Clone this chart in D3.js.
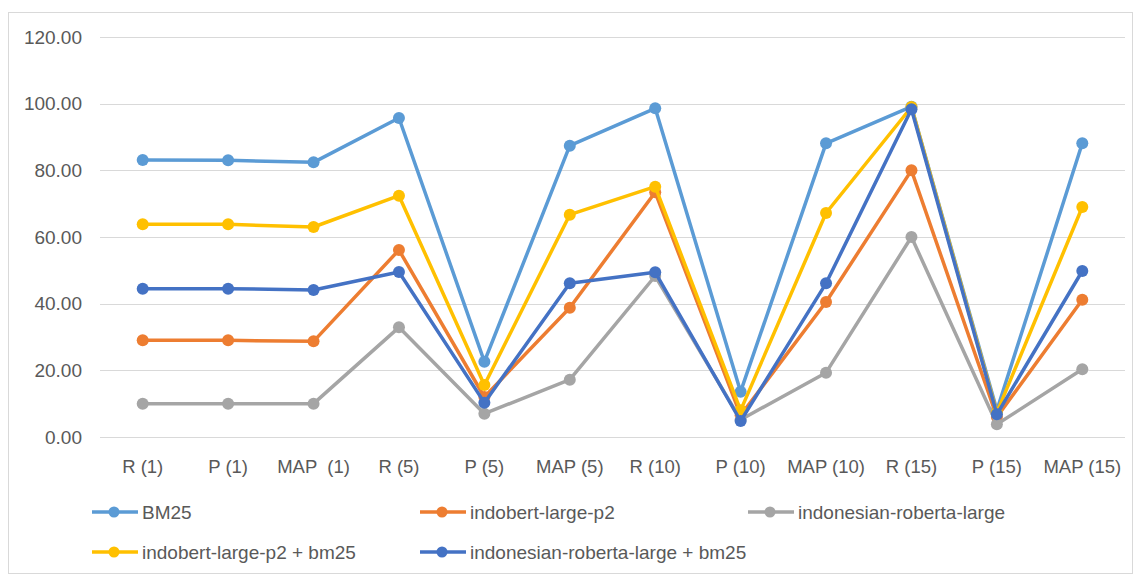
<!DOCTYPE html>
<html>
<head>
<meta charset="utf-8">
<script src="https://cdn.jsdelivr.net/npm/d3@7"></script>
<style>
  html, body { margin: 0; padding: 0; background: #fff; }
  svg { display: block; font-family: "Liberation Sans", Arial, sans-serif; }
</style>
</head>
<body>
<svg id="chart" width="1140" height="575"></svg>
<script>
const categories = ["R (1)", "P (1)", "MAP  (1)", "R (5)", "P (5)", "MAP (5)", "R (10)", "P (10)", "MAP (10)", "R (15)", "P (15)", "MAP (15)"];
const yTicks = [0, 20, 40, 60, 80, 100, 120];
const seriesNames = ["BM25", "indobert-large-p2", "indonesian-roberta-large", "indobert-large-p2 + bm25", "indonesian-roberta-large + bm25"];
const seriesColors = ["#5B9BD5", "#ED7D31", "#A5A5A5", "#FFC000", "#4472C4"];
const bm25 = [83.1, 83.0, 82.4, 95.7, 22.6, 87.4, 98.6, 13.6, 88.1, 99.1, 8.0, 88.1];
const indobert = [29.0, 29.0, 28.7, 56.1, 12.0, 38.8, 73.4, 6.5, 40.5, 80.0, 6.0, 41.2];
const roberta = [10.0, 10.0, 10.0, 32.9, 7.0, 17.2, 48.3, 5.2, 19.3, 60.0, 3.8, 20.3];
const indobertBm25 = [63.8, 63.8, 63.0, 72.4, 15.6, 66.7, 75.1, 8.0, 67.2, 99.0, 7.3, 69.0];
const robertaBm25 = [44.5, 44.5, 44.1, 49.5, 10.3, 46.1, 49.4, 4.8, 46.1, 98.3, 6.8, 49.8];
const seriesValues = [bm25, indobert, roberta, indobertBm25, robertaBm25];

const svg = d3.select("#chart");
const textColor = "#595959";
const gridColor = "#d9d9d9";

// outer border
svg.append("rect")
  .attr("x", 8.5).attr("y", 12.5)
  .attr("width", 1124).attr("height", 561)
  .attr("fill", "#fff").attr("stroke", gridColor).attr("stroke-width", 1);

const x = d3.scaleBand().domain(categories).range([100, 1125]);
const y = d3.scaleLinear().domain([0, 120]).range([437, 37]);

// gridlines
svg.append("g").selectAll("line").data(yTicks).join("line")
  .attr("x1", 100).attr("x2", 1125)
  .attr("y1", d => Math.round(y(d)) + 0.5).attr("y2", d => Math.round(y(d)) + 0.5)
  .attr("stroke", gridColor).attr("stroke-width", 1);

// y axis labels
const yAxis = d3.axisLeft(y).tickValues(yTicks).tickFormat(d3.format(".2f")).tickSize(0).tickPadding(0);
const yg = svg.append("g").attr("transform", "translate(82,0)").call(yAxis);
yg.select(".domain").remove();
yg.selectAll("text").attr("font-size", 19).attr("fill", textColor)
  .attr("font-family", "Liberation Sans, Arial, sans-serif");

// x axis labels
const xAxis = d3.axisBottom(x).tickSize(0).tickPadding(0);
const xg = svg.append("g").attr("transform", "translate(0,460)").call(xAxis);
xg.select(".domain").remove();
xg.selectAll("text").attr("font-size", 18.5).attr("fill", textColor)
  .attr("font-family", "Liberation Sans, Arial, sans-serif")
  .style("white-space", "pre").attr("xml:space", "preserve");

// series
const line = d3.line()
  .x((d, i) => x(categories[i]) + x.bandwidth() / 2)
  .y(d => y(d));

seriesValues.forEach((vals, si) => {
  const g = svg.append("g");
  g.append("path").datum(vals)
    .attr("d", line)
    .attr("fill", "none")
    .attr("stroke", seriesColors[si])
    .attr("stroke-width", 3.5)
    .attr("stroke-linejoin", "round")
    .attr("stroke-linecap", "round");
  g.selectAll("circle").data(vals).join("circle")
    .attr("cx", (d, i) => x(categories[i]) + x.bandwidth() / 2)
    .attr("cy", d => y(d))
    .attr("r", 6)
    .attr("fill", seriesColors[si]);
});

// legend
const legendPos = [[92, 512], [420, 512], [748, 512], [92, 552], [420, 552]];
seriesNames.forEach((name, i) => {
  const [lx, ly] = legendPos[i];
  const g = svg.append("g").attr("transform", `translate(${lx},${ly})`);
  g.append("line").attr("x1", 0).attr("x2", 46).attr("y1", 0).attr("y2", 0)
    .attr("stroke", seriesColors[i]).attr("stroke-width", 3.5);
  g.append("circle").attr("cx", 22).attr("cy", 0).attr("r", 5.5).attr("fill", seriesColors[i]);
  g.append("text").attr("x", 50).attr("y", 0).attr("dy", "0.35em")
    .attr("font-size", 19).attr("fill", textColor).text(name);
});
</script>
</body>
</html>
